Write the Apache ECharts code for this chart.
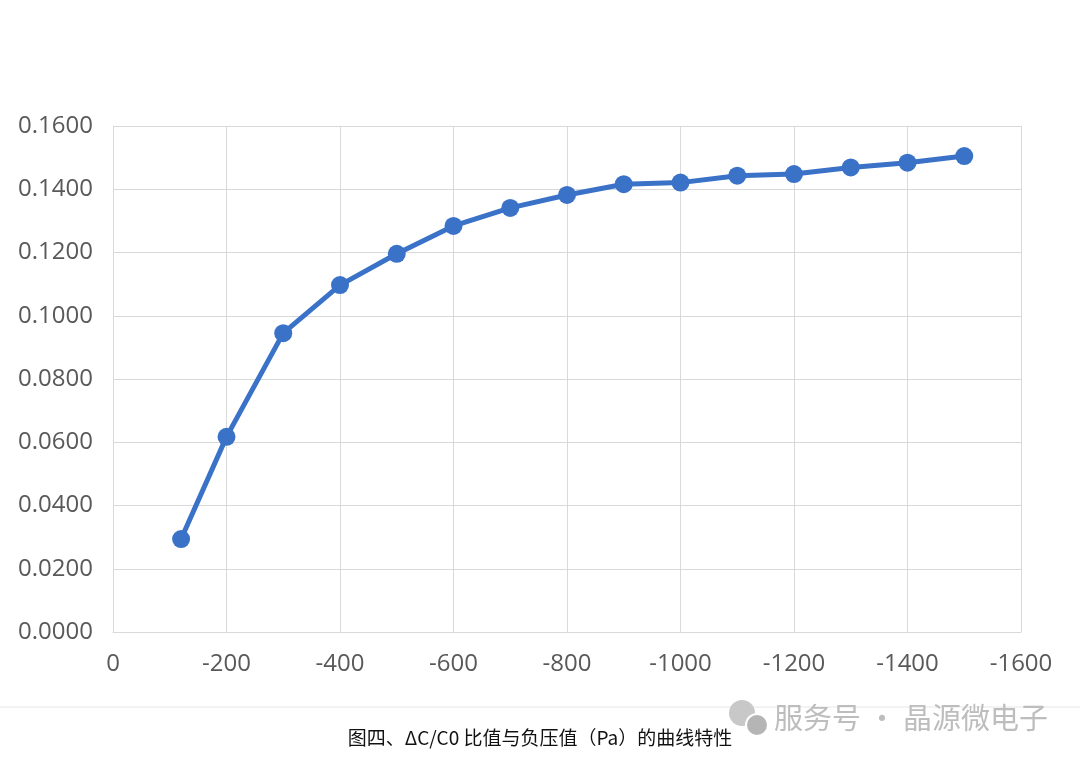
<!DOCTYPE html>
<html>
<head>
<meta charset="utf-8">
<script src="https://cdn.jsdelivr.net/npm/echarts@6/dist/echarts.min.js"></script>
<style>
	html, body { margin: 0; padding: 0; background: #fff; }
	#chart { width: 1080px; height: 764px; }
</style>
</head>
<body>
<div id="chart"></div>
<script>
	'use strict';

	// 负压值 (Pa)
	var pressure = [-120, -200, -300, -400, -500, -600, -700, -800, -900, -1000, -1100, -1200, -1300, -1400, -1500];
	// ΔC/C0 比值
	var ratio = [0.0294, 0.0617, 0.0945, 0.1097, 0.1196, 0.1284, 0.1341, 0.1382, 0.1416, 0.1421, 0.1443, 0.1448, 0.1469, 0.1484, 0.1505];

	var caption = '图四、ΔC/C0 比值与负压值（Pa）的曲线特性';
	var watermark = '服务号 · 晶源微电子';

	var points = pressure.map(function(p, i) {
		return [p, ratio[i]];
	});

	var myChart = echarts.init(document.getElementById('chart'));
	myChart.setOption({
		animation: false,
		backgroundColor: '#fff',
		grid: { left: 113, right: 59, top: 126, bottom: 132 },
		xAxis: {
			type: 'value',
			inverse: true,
			min: -1600,
			max: 0,
			interval: 200,
			axisLine: { show: true, lineStyle: { color: '#d9d9d9', width: 1 } },
			axisTick: { show: false },
			axisLabel: {
				color: '#595959', fontSize: 24, fontFamily: 'Open Sans', margin: 20,
				formatter: function(v) { return String(v); }
			},
			splitLine: { show: true, lineStyle: { color: '#d9d9d9', width: 1 } }
		},
		yAxis: {
			type: 'value',
			min: 0,
			max: 0.16,
			interval: 0.02,
			axisLine: { show: true, lineStyle: { color: '#d9d9d9', width: 1 } },
			axisTick: { show: false },
			axisLabel: {
				color: '#595959', fontSize: 24, fontFamily: 'Open Sans', margin: 20,
				formatter: function(v) { return v.toFixed(4); }
			},
			splitLine: { show: true, lineStyle: { color: '#d9d9d9', width: 1 } }
		},
		series: [{
			type: 'line',
			data: points,
			symbol: 'circle',
			symbolSize: 18,
			itemStyle: { color: '#3a72c8' },
			lineStyle: { color: '#3a72c8', width: 5 }
		}],
		graphic: [
			{
				type: 'line',
				shape: { x1: 0, y1: 707, x2: 1080, y2: 707 },
				style: { stroke: '#e6e6e6', lineWidth: 1 }
			},
			{
				type: 'text',
				left: 'center',
				top: 728,
				style: { text: caption, fill: '#111', fontSize: 19, fontFamily: 'Noto Sans CJK SC' }
			},
			// 水印图标
			{ type: 'circle', shape: { cx: 742, cy: 713, r: 13 }, style: { fill: '#c8c8c8' } },
			{ type: 'circle', shape: { cx: 757, cy: 725, r: 11 }, style: { fill: '#b5b5b5', stroke: '#fff', lineWidth: 2 } },
			{
				type: 'text',
				left: 774,
				top: 703,
				style: { text: watermark, fill: '#bdbdbd', fontSize: 29, fontFamily: 'Noto Sans CJK SC' }
			}
		]
	});
</script>
</body>
</html>
